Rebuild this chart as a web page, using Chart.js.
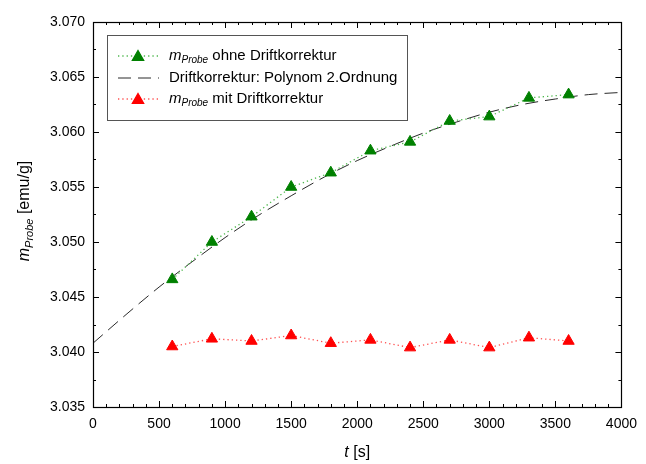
<!DOCTYPE html>
<html>
<head>
<meta charset="utf-8">
<script src="https://cdn.jsdelivr.net/npm/chart.js@4/dist/chart.umd.min.js"></script>
<style>
  html, body { margin: 0; padding: 0; background: #fff; }
  #wrap { width: 646px; height: 464px; }
</style>
</head>
<body>
<div id="wrap"><canvas id="c" width="646" height="464"></canvas></div>
<script>
// Measurement times [s]
const times = [600, 900, 1200, 1500, 1800, 2100, 2400, 2700, 3000, 3300, 3600];
// Sample moment without drift correction [emu/g]
const massUncorrected = [3.0466, 3.0500, 3.0523, 3.0550, 3.0563, 3.0583, 3.0591, 3.0610, 3.0614, 3.0631, 3.0634];
// Sample moment after drift correction [emu/g]
const massCorrected = [3.0405, 3.0412, 3.0410, 3.0415, 3.0408, 3.0411, 3.0404, 3.0411, 3.0404, 3.0413, 3.0410];
// Drift curve (2nd-order polynomial), sampled values
const driftTimes = [0, 250, 500, 750, 1000, 1250, 1500, 1750, 2000, 2250, 2500, 2750, 3000, 3250, 3500, 3750, 4000];
const driftValues = [3.0408, 3.0434, 3.0459, 3.0482, 3.0504, 3.0524, 3.0542, 3.0559, 3.0574, 3.0587, 3.0599, 3.0609, 3.0618, 3.0625, 3.0630, 3.0634, 3.0636];
// Axis tick labels
const xTickValues = [0, 500, 1000, 1500, 2000, 2500, 3000, 3500, 4000];
const yTickValues = [3.035, 3.040, 3.045, 3.050, 3.055, 3.060, 3.065, 3.070];

const FONT = '"Liberation Sans", Arial, sans-serif';
const GREEN = '#008000';
const GREEN_LINE = '#4fb84f';
const RED = '#ff0000';
const RED_LINE = '#ff5050';
const DASH_COLOR = '#2a2a2a';

const pairs = (xs, ys) => xs.map((x, i) => ({ x: x, y: ys[i] }));

// Draws "m" with an italic "Probe" subscript, followed by plain text.
function drawMProbe(ctx, x, y, size, rest, measureOnly) {
  const parts = [
    { t: 'm', f: 'italic ' + size + 'px ' + FONT, dy: 0 },
    { t: 'Probe', f: 'italic ' + Math.round(size * 0.68) + 'px ' + FONT, dy: size * 0.28 },
    { t: rest, f: size + 'px ' + FONT, dy: 0 }
  ];
  let cx = x;
  for (const p of parts) {
    ctx.font = p.f;
    if (!measureOnly) ctx.fillText(p.t, cx, y + p.dy);
    cx += ctx.measureText(p.t).width;
  }
  return cx - x;
}

// Frame around the plot with inward major/minor ticks on all four sides.
const frameTicks = {
  id: 'frameTicks',
  afterDatasetsDraw(chart) {
    const { ctx, chartArea: a, scales } = chart;
    const xs = scales.x, ys = scales.y;
    ctx.save();
    ctx.strokeStyle = '#000';
    ctx.lineWidth = 1;
    ctx.beginPath();
    for (let v = 0; v <= 4000; v += 100) {
      const px = Math.round(xs.getPixelForValue(v)) + 0.5;
      const len = (v % 500 === 0) ? 6 : 3;
      ctx.moveTo(px, a.bottom); ctx.lineTo(px, a.bottom - len);
      ctx.moveTo(px, a.top); ctx.lineTo(px, a.top + len);
    }
    for (let i = 0; i <= 14; i++) {
      const v = 3.035 + i * 0.0025;
      const py = Math.round(ys.getPixelForValue(v)) + 0.5;
      const len = (i % 2 === 0) ? 6 : 3;
      ctx.moveTo(a.left, py); ctx.lineTo(a.left + len, py);
      ctx.moveTo(a.right, py); ctx.lineTo(a.right - len, py);
    }
    ctx.stroke();
    ctx.lineWidth = 1.2;
    ctx.strokeRect(Math.round(a.left) + 0.5, Math.round(a.top) + 0.5,
                   Math.round(a.right - a.left), Math.round(a.bottom - a.top));
    ctx.restore();
  }
};

// Axis titles and the legend box.
const annotations = {
  id: 'annotations',
  afterDraw(chart) {
    const { ctx, chartArea: a } = chart;
    ctx.save();
    ctx.fillStyle = '#000';
    ctx.textBaseline = 'middle';

    // x title: t [s]
    ctx.font = 'italic 16px ' + FONT;
    const w1 = ctx.measureText('t').width;
    ctx.font = '16px ' + FONT;
    const w2 = ctx.measureText(' [s]').width;
    const cx = (a.left + a.right) / 2;
    let sx = cx - (w1 + w2) / 2;
    ctx.font = 'italic 16px ' + FONT;
    ctx.fillText('t', sx, 453);
    ctx.font = '16px ' + FONT;
    ctx.fillText(' [s]', sx + w1, 453);

    // y title: m_Probe [emu/g]
    ctx.save();
    ctx.translate(25, 211);
    ctx.rotate(-Math.PI / 2);
    const tw = drawMProbe(ctx, 0, 0, 16, ' [emu/g]', true);
    drawMProbe(ctx, -tw / 2, 0, 16, ' [emu/g]', false);
    ctx.restore();

    // legend
    const lx = 107.5, ly = 35.5, lw = 300, lh = 85;
    ctx.fillStyle = '#fff';
    ctx.fillRect(lx, ly, lw, lh);
    ctx.strokeStyle = '#555';
    ctx.lineWidth = 1;
    ctx.strokeRect(lx, ly, lw, lh);

    const rows = [56, 78, 99];
    const x0 = 118, x1 = 158, tx = 169;
    // row 1
    ctx.strokeStyle = GREEN_LINE; ctx.lineWidth = 1.3; ctx.setLineDash([1.3, 3]);
    ctx.beginPath(); ctx.moveTo(x0, rows[0]); ctx.lineTo(x1, rows[0]); ctx.stroke();
    ctx.fillStyle = GREEN; ctx.strokeStyle = GREEN; ctx.setLineDash([]);
    Chart.helpers.drawPoint(ctx, { pointStyle: 'triangle', radius: 6.5, borderWidth: 1, rotation: 0 }, 138, rows[0] + 1);
    ctx.fillStyle = '#000';
    drawMProbe(ctx, tx, rows[0], 15, ' ohne Driftkorrektur', false);
    // row 2
    ctx.strokeStyle = DASH_COLOR; ctx.lineWidth = 1; ctx.setLineDash([13, 7]);
    ctx.beginPath(); ctx.moveTo(x0, rows[1]); ctx.lineTo(x1 + 1, rows[1]); ctx.stroke();
    ctx.setLineDash([]);
    ctx.fillStyle = '#000';
    ctx.font = '15px ' + FONT;
    ctx.fillText('Driftkorrektur: Polynom 2.Ordnung', tx, rows[1]);
    // row 3
    ctx.strokeStyle = RED_LINE; ctx.lineWidth = 1.3; ctx.setLineDash([1.3, 3]);
    ctx.beginPath(); ctx.moveTo(x0, rows[2]); ctx.lineTo(x1, rows[2]); ctx.stroke();
    ctx.fillStyle = RED; ctx.strokeStyle = RED; ctx.setLineDash([]);
    Chart.helpers.drawPoint(ctx, { pointStyle: 'triangle', radius: 6.5, borderWidth: 1, rotation: 0 }, 138, rows[2] + 1);
    ctx.fillStyle = '#000';
    drawMProbe(ctx, tx, rows[2], 15, ' mit Driftkorrektur', false);

    ctx.restore();
  }
};

new Chart(document.getElementById('c'), {
  type: 'scatter',
  data: {
    datasets: [
      {
        label: 'mProbe ohne Driftkorrektur',
        data: pairs(times, massUncorrected),
        showLine: true,
        borderColor: GREEN_LINE,
        borderWidth: 1.3,
        borderDash: [1.3, 3],
        pointStyle: 'triangle',
        pointRadius: 6.5,
        pointBackgroundColor: GREEN,
        pointBorderColor: GREEN,
        pointBorderWidth: 1,
        order: 1
      },
      {
        label: 'mProbe mit Driftkorrektur',
        data: pairs(times, massCorrected),
        showLine: true,
        borderColor: RED_LINE,
        borderWidth: 1.3,
        borderDash: [1.3, 3],
        pointStyle: 'triangle',
        pointRadius: 6.5,
        pointBackgroundColor: RED,
        pointBorderColor: RED,
        pointBorderWidth: 1,
        order: 1
      },
      {
        label: 'Driftkorrektur: Polynom 2.Ordnung',
        data: pairs(driftTimes, driftValues),
        showLine: true,
        borderColor: DASH_COLOR,
        borderWidth: 1,
        borderDash: [13, 7],
        cubicInterpolationMode: 'monotone',
        pointRadius: 0,
        order: 2
      }
    ]
  },
  options: {
    responsive: false,
    animation: false,
    devicePixelRatio: 1,
    layout: { padding: { left: 0, top: 22, right: 18, bottom: 0 } },
    plugins: { legend: { display: false }, tooltip: { enabled: false } },
    scales: {
      x: {
        type: 'linear',
        min: 0, max: 4000,
        afterBuildTicks: s => { s.ticks = xTickValues.map(v => ({ value: v })); },
        afterFit: s => { s.height = 57; },
        grid: { display: false, drawTicks: false },
        border: { display: false },
        ticks: {
          padding: 9,
          color: '#000',
          font: { family: FONT, size: 14 },
          maxRotation: 0,
          callback: v => String(v)
        }
      },
      y: {
        type: 'linear',
        min: 3.035, max: 3.070,
        afterBuildTicks: s => { s.ticks = yTickValues.map(v => ({ value: v })); },
        afterFit: s => { s.width = 93; },
        grid: { display: false, drawTicks: false },
        border: { display: false },
        ticks: {
          padding: 8,
          color: '#000',
          font: { family: FONT, size: 14 },
          callback: v => Number(v).toFixed(3)
        }
      }
    }
  },
  plugins: [frameTicks, annotations]
});
</script>
</body>
</html>
